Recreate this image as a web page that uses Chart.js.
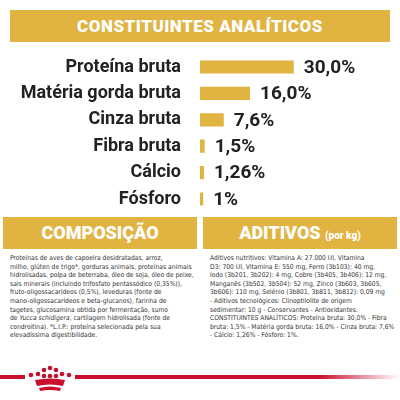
<!DOCTYPE html>
<html><head><meta charset="utf-8">
<script src="https://cdn.jsdelivr.net/npm/chart.js@4/dist/chart.umd.min.js"></script>
<style>
body{margin:0;width:400px;height:400px;background:#fff;position:relative;overflow:hidden;font-family:Roboto,sans-serif}
.band{position:absolute;background:#e1b341;color:#fff;font-weight:900;text-align:center}
.txt{position:absolute;font-family:"Liberation Sans Narrow","DejaVu Sans Condensed",sans-serif;font-size:6.7px;line-height:8.6px;color:#333;white-space:nowrap}
</style></head><body>
<div class="band" style="left:10px;top:10px;width:380px;height:32px;line-height:32px;font-size:17px;letter-spacing:0.5px">CONSTITUINTES ANALÍTICOS</div>
<canvas id="c" width="400" height="202" style="position:absolute;left:0;top:32px"></canvas>
<div class="band" style="left:3px;top:217px;width:194px;height:32px;line-height:32px;font-size:18px">COMPOSIÇÃO</div>
<div class="band" style="left:203px;top:217px;width:194px;height:32px;line-height:32px;font-size:18px">ADITIVOS <span style="font-size:10px">(por kg)</span></div>
<div class="txt" style="left:10px;top:254px">Proteínas de aves de capoeira desidratadas, arroz,<br>milho, glúten de trigo*, gorduras animais, proteínas animais<br>hidrolisadas, polpa de beterraba, óleo de soja, óleo de peixe,<br>sais minerais (incluindo trifosfato pentassódico (0,35%)),<br>fruto-oligossacarídeos (0,5%), leveduras (fonte de<br>mano-oligossacarídeos e beta-glucanos), farinha de<br>tagetes, glucosamina obtida por fermentação, sumo<br>de <i>Yucca schidigera</i>, cartilagem hidrolisada (fonte de<br>condroitina). *L.I.P.: proteína selecionada pela sua<br>elevadíssima digestibilidade.</div>
<div class="txt" style="left:210px;top:254px">Aditivos nutritivos: Vitamina A: 27.000 UI, Vitamina<br>D3: 700 UI, Vitamina E: 550 mg, Ferro (3b103): 40 mg,<br>Iodo (3b201, 3b202): 4 mg, Cobre (3b405, 3b406): 12 mg,<br>Manganês (3b502, 3b504): 52 mg, Zinco (3b603, 3b605,<br>3b606): 110 mg, Selénio (3b801, 3b811, 3b812): 0,09 mg<br>- Aditivos tecnológicos: Clinoptilolite de origem<br>sedimentar: 10 g - Conservantes - Antioxidantes.<br>CONSTITUINTES ANALÍTICOS: Proteína bruta: 30,0% - Fibra<br>bruta: 1,5% - Matéria gorda bruta: 16,0% - Cinza bruta: 7,6%<br>- Cálcio: 1,26% - Fósforo: 1%.</div>
<div style="position:absolute;left:0;top:375px;width:25px;height:4px;background:#c8102e"></div>
<div style="position:absolute;left:75px;top:375px;width:325px;height:4px;background:linear-gradient(90deg,#c8102e 75%,#fff)"></div>
<svg style="position:absolute;left:27px;top:365px" width="46" height="30" viewBox="0 0 46 30">
<g fill="#c8102e"><circle cx="23" cy="3" r="2.3"/><circle cx="17" cy="5" r="2.3"/><circle cx="29" cy="5" r="2.3"/><circle cx="11" cy="9" r="2.3"/><circle cx="35" cy="9" r="2.3"/><circle cx="4" cy="10" r="2.3"/><circle cx="42" cy="10" r="2.3"/><circle cx="17" cy="11" r="2.3"/><circle cx="29" cy="11" r="2.3"/><circle cx="23" cy="11" r="2.3"/>
<path d="M8 15 Q23 12 38 15 L36 21 Q23 18 10 21 Z"/><path d="M12 23 Q23 20 34 23 L33 26 Q23 24 13 26Z"/></g></svg>
<script>
const categories=["Proteína bruta","Matéria gorda bruta","Cinza bruta","Fibra bruta","Cálcio","Fósforo"];
const values=[30.0,16.0,7.6,1.5,1.26,1];
const valueLabels=["30,0%","16,0%","7,6%","1,5%","1,26%","1%"];
const labelPlugin={id:'vl',afterDatasetsDraw(ch){const c=ch.ctx;const m=ch.getDatasetMeta(0);c.save();c.font='bold 19px Roboto';c.fillStyle='#222';c.textBaseline='middle';m.data.forEach((b,i)=>{c.fillText(valueLabels[i],b.x+10,b.y+1);});c.restore();}};
new Chart(document.getElementById('c'),{type:'bar',
data:{labels:categories,datasets:[{data:values,backgroundColor:'#e1b341',barPercentage:0.5,categoryPercentage:1,minBarLength:3}]},
options:{indexAxis:'y',responsive:false,animation:false,devicePixelRatio:1,
layout:{padding:0},
plugins:{legend:{display:false},tooltip:{enabled:false}},
scales:{x:{display:false,min:0,max:64},
y:{afterFit(s){s.width=200;},grid:{display:false},border:{display:false},ticks:{color:'#222',padding:11,font:{family:'Roboto',size:18,weight:'bold'}}}}},
plugins:[labelPlugin]});
</script></body></html>
